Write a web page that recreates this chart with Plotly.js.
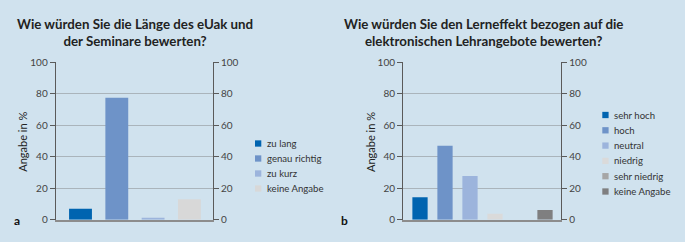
<!DOCTYPE html>
<html>
<head>
<meta charset="utf-8">
<script src="https://cdn.plot.ly/plotly-3.0.1.min.js"></script>
<style>html,body{margin:0;padding:0;background:#d0e2ee;}#chart{width:685px;height:242px;}</style>
</head>
<body>
<div id="chart"></div>
<script>
// ---- data ----
const titleA = 'Wie würden Sie die Länge des eUak und<br>der Seminare bewerten?';
const titleB = 'Wie würden Sie den Lerneffekt bezogen auf die<br>elektronischen Lehrangebote bewerten?';
const yTitle = 'Angabe in %';
const catsA = ['zu lang', 'genau richtig', 'zu kurz', 'keine Angabe'];
const valsA = [7, 77.5, 1.3, 13];
const colorsA = ['#0064b0', '#6e93c8', '#9cb4dc', '#d8d8d8'];
const catsB = ['sehr hoch', 'hoch', 'neutral', 'niedrig', 'sehr niedrig', 'keine Angabe'];
const valsB = [14.2, 47, 27.8, 3.8, 0, 6.2];
const colorsB = ['#0064b0', '#6e93c8', '#9cb4dc', '#dadada', '#a6a6a6', '#7f7f80'];
const yTicks = [0, 20, 40, 60, 80, 100];

// ---- geometry helpers (paper = full figure, no margins) ----
const W = 685, H = 242;
const px = x => x / W;
const py = y => 1 - y / H;
const FONT = 'Lato, "Open Sans", sans-serif';
const TXT = '#333333';

const traces = [];
catsA.forEach((c, i) => traces.push({
  type: 'bar', x: [i], y: [valsA[i]], name: c, width: 0.63,
  marker: {color: colorsA[i]}, xaxis: 'x', yaxis: 'y', showlegend: false, hoverinfo: 'name+y'
}));
catsB.forEach((c, i) => traces.push({
  type: 'bar', x: [i], y: [valsB[i]], name: c, width: 0.61,
  marker: {color: colorsB[i]}, xaxis: 'x2', yaxis: 'y3', showlegend: false, hoverinfo: 'name+y'
}));
// invisible traces so the right-hand value axes are drawn
traces.push({type: 'scatter', x: [0], y: [0], xaxis: 'x', yaxis: 'y2', mode: 'markers',
  marker: {opacity: 0}, showlegend: false, hoverinfo: 'skip'});
traces.push({type: 'scatter', x: [0], y: [0], xaxis: 'x2', yaxis: 'y4', mode: 'markers',
  marker: {opacity: 0}, showlegend: false, hoverinfo: 'skip'});

const yDom = [py(219.7), py(62.3)];
const yBase = {
  range: [0, 100], tickvals: yTicks, showline: true, linecolor: '#5a5a5a', linewidth: 1.3,
  ticks: 'outside', ticklen: 5, tickcolor: '#5a5a5a', tickwidth: 1.2,
  tickfont: {family: FONT, size: 10, color: '#444'}, zeroline: false, fixedrange: true
};
const xBase = {
  showticklabels: false, ticks: '', showgrid: false, zeroline: false,
  showline: true, linecolor: '#8c8c8c', linewidth: 2, fixedrange: true
};

const layout = {
  width: W, height: H,
  margin: {l: 0, r: 0, t: 0, b: 0},
  paper_bgcolor: '#d0e2ee', plot_bgcolor: '#d0e2ee',
  font: {family: FONT, color: TXT},
  barmode: 'overlay', showlegend: false,
  xaxis: Object.assign({}, xBase, {domain: [px(56), px(212.7)], range: [-0.675, 3.642], anchor: 'y'}),
  xaxis2: Object.assign({}, xBase, {domain: [px(403.3), px(561)], range: [-0.668, 5.64], anchor: 'y3'}),
  yaxis: Object.assign({}, yBase, {domain: yDom, anchor: 'x', side: 'left', showgrid: true, gridcolor: '#aab4bb', gridwidth: 1}),
  yaxis2: Object.assign({}, yBase, {overlaying: 'y', anchor: 'x', side: 'right', showgrid: false}),
  yaxis3: Object.assign({}, yBase, {domain: yDom, anchor: 'x2', side: 'left', showgrid: true, gridcolor: '#aab4bb', gridwidth: 1}),
  yaxis4: Object.assign({}, yBase, {overlaying: 'y3', anchor: 'x2', side: 'right', showgrid: false}),
  annotations: [],
  shapes: []
};

const ann = layout.annotations;
const bold = t => '<b>' + t.split('<br>').join('</b><br><b>') + '</b>';
ann.push({text: bold(titleA), x: px(134.5), y: py(32), xref: 'paper', yref: 'paper',
  showarrow: false, xanchor: 'center', yanchor: 'middle', font: {size: 13.3, color: '#222'}, align: 'center'});
ann.push({text: bold(titleB), x: px(483), y: py(32), xref: 'paper', yref: 'paper',
  showarrow: false, xanchor: 'center', yanchor: 'middle', font: {size: 13.3, color: '#222'}, align: 'center'});
ann.push({text: yTitle, x: px(21.7), y: py(142), xref: 'paper', yref: 'paper', textangle: -90,
  showarrow: false, xanchor: 'center', yanchor: 'middle', font: {size: 11, color: '#222'}});
ann.push({text: yTitle, x: px(370), y: py(142), xref: 'paper', yref: 'paper', textangle: -90,
  showarrow: false, xanchor: 'center', yanchor: 'middle', font: {size: 11, color: '#222'}});
ann.push({text: '<b>a</b>', x: px(17), y: py(220), xref: 'paper', yref: 'paper',
  showarrow: false, xanchor: 'center', yanchor: 'middle', font: {size: 12, color: '#111'}});
ann.push({text: '<b>b</b>', x: px(344), y: py(220), xref: 'paper', yref: 'paper',
  showarrow: false, xanchor: 'center', yanchor: 'middle', font: {size: 12, color: '#111'}});

// legends built from the category arrays
function legend(cats, colors, sqX, txtX, y0, step) {
  cats.forEach((c, i) => {
    const yc = y0 + i * step;
    layout.shapes.push({type: 'rect', xref: 'paper', yref: 'paper',
      x0: px(sqX), x1: px(sqX + 6.3), y0: py(yc + 3.15), y1: py(yc - 3.15),
      fillcolor: colors[i], line: {width: 0}});
    ann.push({text: c, x: px(txtX), y: py(yc), xref: 'paper', yref: 'paper', showarrow: false,
      xanchor: 'left', yanchor: 'middle', font: {size: 9.6, color: TXT}});
  });
}
legend(catsA, colorsA, 255, 264.5, 143.5, 15);
legend(catsB, colorsB, 602.3, 612.3, 115, 15.3);

Plotly.newPlot('chart', traces, layout, {displayModeBar: false, staticPlot: true});
</script>
</body>
</html>
